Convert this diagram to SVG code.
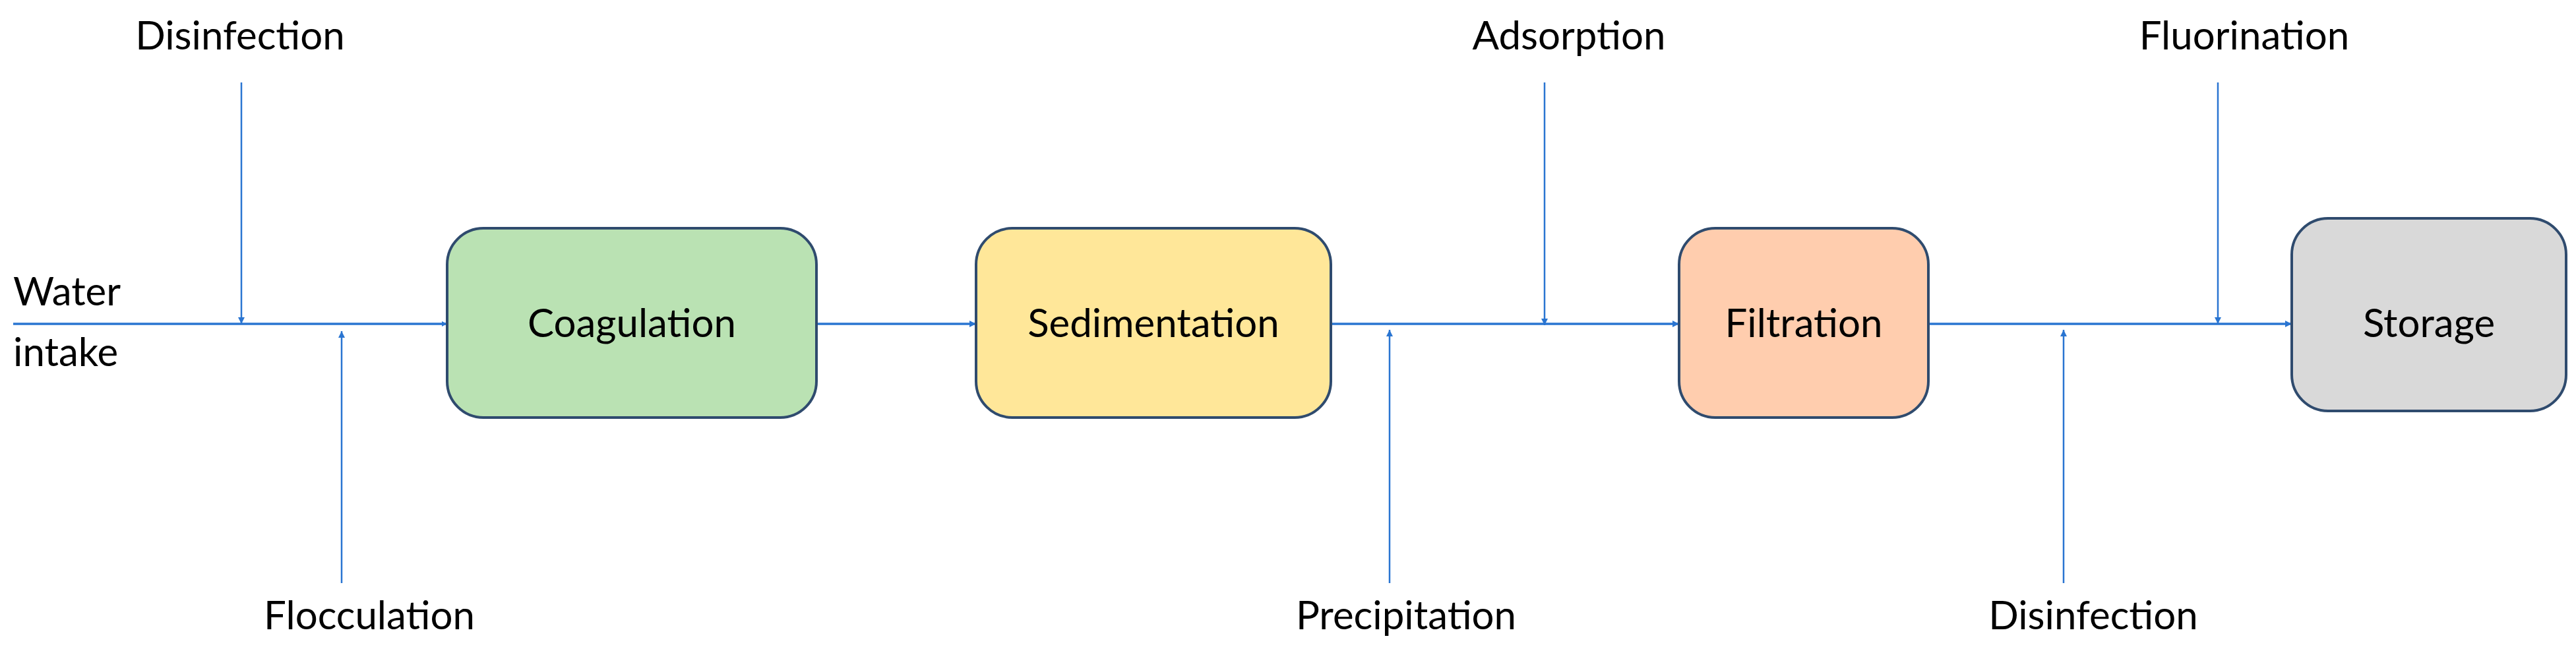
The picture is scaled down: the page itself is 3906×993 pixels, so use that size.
<svg xmlns="http://www.w3.org/2000/svg" width="3906" height="993" viewBox="0 0 3906 993">
<style>
.box{stroke:#2f4b6e;stroke-width:4}
.t{font-family:Lato,"Liberation Sans",sans-serif;font-size:60px;fill:#000}
.c{stroke:#2a75d1;stroke-width:3.5;fill:none}
.m{stroke:#2a75d1;stroke-width:2.5;fill:none}
</style>
<defs>
<marker id="a" viewBox="0 0 10 10" refX="10" refY="5" markerWidth="8" markerHeight="8" markerUnits="userSpaceOnUse" orient="auto"><path d="M0,0L10,5L0,10z" fill="#2a75d1"/></marker>
<marker id="b" viewBox="0 0 10 10" refX="10" refY="5" markerWidth="10" markerHeight="10" markerUnits="userSpaceOnUse" orient="auto"><path d="M0,0L10,5L0,10z" fill="#2a75d1"/></marker>
</defs>
<rect width="3906" height="993" fill="#fff"/>
<g id="connectors">
<path class="c" d="M20,491H678" marker-end="url(#b)" style="marker-end:url(#a)"/>
<path class="m" d="M366,125V491" marker-end="url(#b)"/>
<path class="m" d="M518,884V502" marker-end="url(#b)"/>
<path class="c" d="M1238,491H1480" marker-end="url(#b)"/>
<path class="c" d="M2018,491H2546" marker-end="url(#b)"/>
<path class="m" d="M2342,125V493" marker-end="url(#b)"/>
<path class="m" d="M2107,884V500" marker-end="url(#b)"/>
<path class="c" d="M2924,491H3475" marker-end="url(#b)"/>
<path class="m" d="M3363,125V491" marker-end="url(#b)"/>
<path class="m" d="M3129,884V500" marker-end="url(#b)"/>
</g>
<g id="coagulation"><rect class="box" x="678" y="346" width="560" height="287" rx="55" fill="#bae2b3"/><text class="t" x="958" y="511" text-anchor="middle">Coagulation</text></g>
<g id="sedimentation"><rect class="box" x="1480" y="346" width="538" height="287" rx="55" fill="#ffe799"/><text class="t" x="1749" y="511" text-anchor="middle">Sedimentation</text></g>
<g id="filtration"><rect class="box" x="2546" y="346" width="378" height="287" rx="55" fill="#ffcdae"/><text class="t" x="2735" y="511" text-anchor="middle">Filtration</text></g>
<g id="storage"><rect class="box" x="3475" y="331" width="416" height="292" rx="55" fill="#d9d9d9"/><text class="t" x="3683" y="511" text-anchor="middle">Storage</text></g>
<g id="labels">
<text class="t" x="20" y="463">Water</text>
<text class="t" x="20" y="555">intake</text>
<text class="t" x="364" y="75" text-anchor="middle">Disinfection</text>
<text class="t" x="560" y="954" text-anchor="middle">Flocculation</text>
<text class="t" x="2379" y="75" text-anchor="middle">Adsorption</text>
<text class="t" x="2132" y="954" text-anchor="middle">Precipitation</text>
<text class="t" x="3403" y="75" text-anchor="middle">Fluorination</text>
<text class="t" x="3174" y="954" text-anchor="middle">Disinfection</text>
</g>
</svg>
